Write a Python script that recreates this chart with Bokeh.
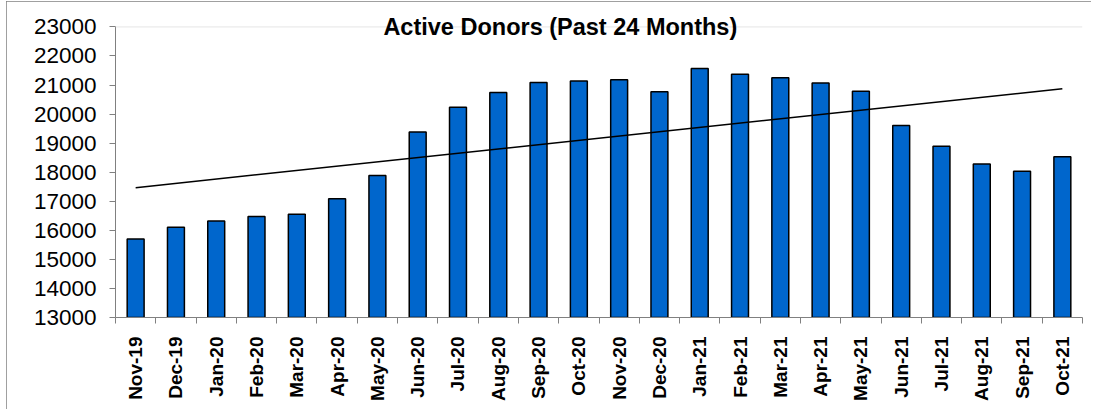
import numpy as np
from bokeh.plotting import figure
from bokeh.models import FixedTicker, LinearAxis, Span, Label, ColumnDataSource
from bokeh.embed import file_html
from bokeh.resources import INLINE

months = ["Nov-19", "Dec-19", "Jan-20", "Feb-20", "Mar-20", "Apr-20", "May-20", "Jun-20",
          "Jul-20", "Aug-20", "Sep-20", "Oct-20", "Nov-20", "Dec-20", "Jan-21", "Feb-21",
          "Mar-21", "Apr-21", "May-21", "Jun-21", "Jul-21", "Aug-21", "Sep-21", "Oct-21"]
donors = [15700, 16110, 16320, 16480, 16550, 17090, 17890, 19380,
          20240, 20740, 21090, 21140, 21180, 20770, 21570, 21370,
          21250, 21070, 20790, 19610, 18890, 18280, 18030, 18530]
y_ticks = [13000, 14000, 15000, 16000, 17000, 18000, 19000, 20000, 21000, 22000, 23000]
title_text = "Active Donors (Past 24 Months)"

FONT = "Liberation Sans"

n = len(months)
xs = [i + 0.5 for i in range(n)]
src = ColumnDataSource(dict(x=xs, y=donors, m=months))

p = figure(width=1085, height=408, output_backend="svg", toolbar_location=None,
           x_range=(0, n), y_range=(y_ticks[0], 23600),
           min_border_left=109, min_border_right=9, min_border_top=8, min_border_bottom=92,
           x_axis_type=None, y_axis_type=None)
p.outline_line_color = None
p.background_fill_color = "white"
p.border_fill_color = "white"
p.styles = {"margin-left": "6px", "margin-top": "1px",
            "outline": "1px solid #808080", "outline-offset": "-1px"}

# y axis
yax = LinearAxis(ticker=FixedTicker(ticks=y_ticks), bounds=(y_ticks[0], y_ticks[-1]))
yax.axis_line_color = "#808080"
yax.major_tick_line_color = "#808080"
yax.major_tick_out = 6
yax.major_tick_in = 0
yax.minor_tick_line_color = None
yax.major_label_text_font = FONT
yax.major_label_text_font_size = "22.5px"
yax.major_label_text_color = "black"
yax.major_label_standoff = 13
p.add_layout(yax, "left")

# x axis: labels at centers, ticks at boundaries
xax = LinearAxis(ticker=FixedTicker(ticks=xs, minor_ticks=list(range(n + 1))))
xax.major_label_overrides = {x: m for x, m in zip(xs, months)}
xax.major_label_orientation = np.pi / 2
xax.axis_line_color = "#808080"
xax.major_tick_line_color = None
xax.major_tick_out = 0
xax.minor_tick_line_color = "#808080"
xax.minor_tick_out = 6
xax.minor_tick_in = 0
xax.major_label_text_font = FONT
xax.major_label_text_font_style = "bold"
xax.major_label_text_font_size = "19px"
xax.major_label_text_color = "black"
xax.major_label_standoff = 13
p.add_layout(xax, "below")

# grid
p.ygrid.ticker = FixedTicker(ticks=y_ticks[:-1])
p.ygrid.grid_line_color = "#1a1a1a"
p.ygrid.grid_line_width = 1
p.xgrid.grid_line_color = None
p.add_layout(Span(location=y_ticks[-1], dimension="width", line_color="#e6e6e6", line_width=1))

# bars
p.vbar(x="x", top="y", bottom=y_ticks[0], width=0.42, source=src,
       fill_color="#0066cc", line_color="black", line_width=1.5)

# linear trendline (least-squares fit of the data, as in the spreadsheet chart)
coef = np.polyfit(np.array(xs), np.array(donors, dtype=float), 1)
p.line([xs[0], xs[-1]], [np.polyval(coef, xs[0]), np.polyval(coef, xs[-1])],
       line_color="black", line_width=1.5)

# title inside the chart
p.add_layout(Label(x=11.04, y=y_ticks[-1], text=title_text, text_align="center",
                   text_baseline="middle", text_font=FONT, text_font_style="bold",
                   text_font_size="23.5px", text_color="black"))

open("out.html", "w").write(file_html(p, INLINE))
